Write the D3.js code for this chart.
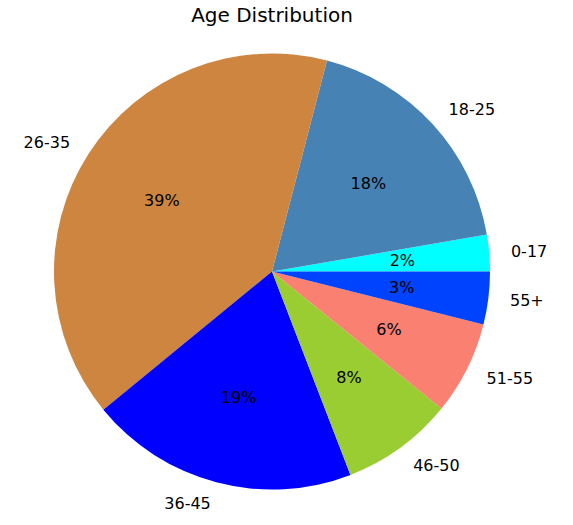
<!DOCTYPE html>
<html>
<head>
<meta charset="utf-8">
<script src="https://cdn.jsdelivr.net/npm/d3@7"></script>
<style>
  body { margin: 0; background: #fff; }
  text { font-family: "DejaVu Sans", sans-serif; }
</style>
</head>
<body>
<div id="chart"></div>
<script>
// chart data, counter-clockwise from 3 o'clock
var categories = ["0-17", "18-25", "26-35", "36-45", "46-50", "51-55", "55+"];
var shares = [2.7, 18.2, 39.9, 19.9, 8.3, 6.9, 3.9];
var sliceColors = ["#00ffff", "#4682b4", "#cd853f", "#0000ff", "#9acd32", "#fa8072", "#0043ff"];

var svgWidth = 573;
var svgHeight = 525;
var cx = 272, cy = 271.5, radius = 218;

var svg = d3.select("#chart")
  .append("svg")
  .attr("width", svgWidth)
  .attr("height", svgHeight);

var total = d3.sum(shares);
var data = categories.map(function(c, i) {
  return { label: c, value: shares[i], color: sliceColors[i] };
});

// matplotlib style: start at 0 deg (east) going counter-clockwise
// d3 angles are clockwise from 12 o'clock, so map a -> PI/2 - a
var pie = d3.pie()
  .sort(null)
  .value(d => d.value)
  .startAngle(Math.PI / 2)
  .endAngle(Math.PI / 2 - 2 * Math.PI);

var arcs = pie(data);

var arc = d3.arc()
  .innerRadius(0)
  .outerRadius(radius);

var g = svg.append("g")
  .attr("transform", `translate(${cx}, ${cy})`);

g.selectAll("path")
  .data(arcs)
  .enter()
  .append("path")
  .attr("d", d => arc({ startAngle: d.endAngle, endAngle: d.startAngle }))
  .attr("fill", d => d.data.color);

function midAngle(d) { return (d.startAngle + d.endAngle) / 2; }

// outer labels at 1.1 r
g.selectAll(".lbl")
  .data(arcs)
  .enter()
  .append("text")
  .attr("class", "lbl")
  .attr("x", d => 1.1 * radius * Math.sin(midAngle(d)))
  .attr("y", d => -1.1 * radius * Math.cos(midAngle(d)))
  .attr("text-anchor", d => Math.sin(midAngle(d)) >= 0 ? "start" : "end")
  .attr("dominant-baseline", "central")
  .attr("font-size", 16)
  .attr("fill", "#000")
  .text(d => d.data.label);

// percent labels at 0.6 r
g.selectAll(".pct")
  .data(arcs)
  .enter()
  .append("text")
  .attr("class", "pct")
  .attr("x", d => 0.6 * radius * Math.sin(midAngle(d)))
  .attr("y", d => -0.6 * radius * Math.cos(midAngle(d)))
  .attr("text-anchor", "middle")
  .attr("dominant-baseline", "central")
  .attr("font-size", 16)
  .attr("fill", "#000")
  .text(d => Math.floor(d.data.value / total * 100) + "%");

// title
svg.append("text")
  .attr("x", cx)
  .attr("y", 22)
  .attr("text-anchor", "middle")
  .attr("font-size", 20)
  .attr("fill", "#000")
  .text("Age Distribution");
</script>
</body>
</html>
